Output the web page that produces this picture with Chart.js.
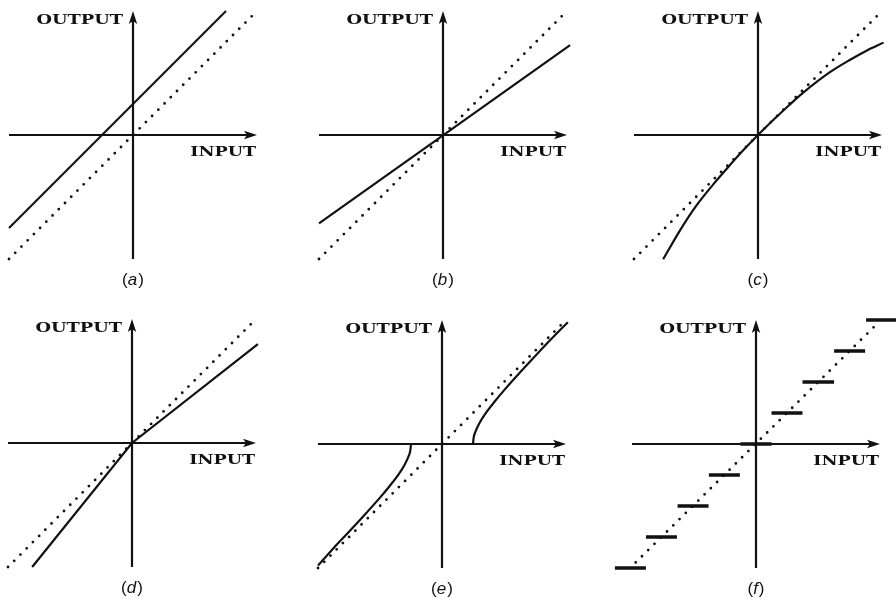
<!DOCTYPE html>
<html>
<head>
<meta charset="utf-8">
<title>Transfer characteristics</title>
<script src="https://cdn.jsdelivr.net/npm/chart.js@4.4.1/dist/chart.umd.min.js"></script>
<style>
  html, body { margin: 0; padding: 0; background: #fff; overflow: hidden; }
  #sheet { position: relative; width: 896px; height: 602px; overflow: hidden; background: #fff; }
  #sheet canvas { position: absolute; }
</style>
</head>
<body>
<div id="sheet"></div>
<script>
// axis reach (units) and texts
const axisReach = 4;
const inputLabel = 'INPUT';
const outputLabel = 'OUTPUT';
const captions = ['a', 'b', 'c', 'd', 'e', 'f'];

// ideal transfer, the dotted diagonal
const idealX = [-4, 4];
const idealY = [-4, 4];

// (a) offset
const offsetX = [-4, 3];
const offsetY = [-3, 4];

// (b) gain
const gainX = [-4, 4.1];
const gainY = [-2.85, 2.9];

// (c) bowed curve
const bowX = [-3.06, -2.53, -1.99, -1.45, -1.0, -0.5, 0, 0.5, 1.0, 1.45, 2.31, 2.96, 3.5, 4.05];
const bowY = [-4.01, -3.1, -2.28, -1.6, -1.08, -0.52, 0, 0.49, 0.96, 1.36, 2.02, 2.42, 2.72, 2.98];

// (d) kink at zero
const kinkX = [-3.22, 0, 4.06];
const kinkY = [-4.0, 0, 3.19];

// (e) dead band, two branches
const deadLowX = [-4.0, -3.5, -3.0, -2.5, -2.0, -1.7, -1.4, -1.2, -1.08, -1.02, -1.0];
const deadLowY = [-3.92, -3.36, -2.83, -2.29, -1.73, -1.37, -0.98, -0.66, -0.4, -0.2, 0];
const deadHighX = [1.0, 1.02, 1.08, 1.2, 1.4, 1.7, 2.0, 2.5, 3.0, 3.5, 4.06];
const deadHighY = [0, 0.2, 0.4, 0.66, 0.98, 1.37, 1.73, 2.29, 2.83, 3.36, 3.93];

// (f) quantizer treads
const stepLevels = [-4, -3, -2, -1, 0, 1, 2, 3, 4];
const stepFrom = [-4.55, -3.55, -2.53, -1.52, -0.5, 0.5, 1.5, 2.52, 3.55];
const stepTo = [-3.55, -2.55, -1.53, -0.52, 0.5, 1.5, 2.52, 3.52, 4.6];
const stepIdealX = [-3.88, 3.88];
const stepIdealY = [-3.82, 3.85];

// where each panel's origin sits on the sheet
const panelOrigins = [[133, 135], [443, 135], [758, 135], [132, 443], [442, 444], [756, 444]];

const ink = '#111';

function pts(xs, ys) {
  return xs.map((x, i) => ({ x: x, y: ys[i] }));
}

function dotted(data) {
  return {
    data: data, borderColor: ink, borderWidth: 2.8,
    borderDash: [0, 8.8], borderCapStyle: 'round',
    pointRadius: 0, tension: 0, clip: false
  };
}

function solid(data, smooth) {
  return {
    data: data, borderColor: ink, borderWidth: 2.2,
    borderCapStyle: 'butt', pointRadius: 0, clip: false,
    tension: smooth ? 0.4 : 0,
    cubicInterpolationMode: smooth ? 'monotone' : 'default'
  };
}

// treads as one dataset, broken by null points
function treads() {
  const data = [];
  stepLevels.forEach((lvl, i) => {
    data.push({ x: stepFrom[i], y: lvl });
    data.push({ x: stepTo[i], y: lvl });
    data.push({ x: stepTo[i], y: null });
  });
  return {
    data: data, borderColor: ink, borderWidth: 3.3, borderCapStyle: 'butt',
    pointRadius: 0, tension: 0, spanGaps: false, clip: false
  };
}

const panelSets = [
  [dotted(pts(idealX, idealY)), solid(pts(offsetX, offsetY))],
  [dotted(pts(idealX, idealY)), solid(pts(gainX, gainY))],
  [dotted(pts(idealX, idealY)), solid(pts(bowX, bowY), true)],
  [dotted(pts(idealX, idealY)), solid(pts(kinkX, kinkY))],
  [dotted(pts(idealX, idealY)), solid(pts(deadLowX, deadLowY), true), solid(pts(deadHighX, deadHighY), true)],
  [dotted(pts(stepIdealX, stepIdealY)), treads()]
];

function arrowHead(ctx, x, y, dir) {
  ctx.save();
  ctx.translate(x, y);
  if (dir === 'up') ctx.rotate(-Math.PI / 2);
  ctx.beginPath();
  ctx.moveTo(0, 0);
  ctx.lineTo(-13, -4.2);
  ctx.lineTo(-10, 0);
  ctx.lineTo(-13, 4.2);
  ctx.closePath();
  ctx.fill();
  ctx.restore();
}

function wideText(ctx, text, right, baseline, stretch) {
  ctx.save();
  ctx.translate(right, baseline);
  ctx.scale(stretch, 1);
  ctx.textAlign = 'right';
  ctx.textBaseline = 'alphabetic';
  ctx.fillText(text, 0, 0);
  ctx.restore();
}

// axes with arrows, axis names and the panel letter
const panelAxes = {
  id: 'panelAxes',
  beforeDatasetsDraw(chart, args, opts) {
    const { ctx, scales: { x, y } } = chart;
    const x0 = x.getPixelForValue(0);
    const y0 = y.getPixelForValue(0);
    const left = x.getPixelForValue(-axisReach);
    const right = x.getPixelForValue(axisReach);
    const top = y.getPixelForValue(axisReach);
    const bottom = y.getPixelForValue(-axisReach);

    ctx.save();
    ctx.strokeStyle = ink;
    ctx.fillStyle = ink;
    ctx.lineWidth = 2.2;
    ctx.beginPath();
    ctx.moveTo(left, y0);
    ctx.lineTo(right - 8, y0);
    ctx.moveTo(x0, bottom);
    ctx.lineTo(x0, top + 8);
    ctx.stroke();
    arrowHead(ctx, right, y0, 'right');
    arrowHead(ctx, x0, top, 'up');

    ctx.font = 'bold 13.5px "DejaVu Serif"';
    wideText(ctx, outputLabel, x0 - 10, top + 12.5, 1.32);
    wideText(ctx, inputLabel, right - 1, y0 + 20.5, 1.3);

    // caption: upright parentheses, italic letter
    const cy = y0 + 145;
    ctx.textBaseline = 'middle';
    ctx.textAlign = 'left';
    ctx.font = '17px "Liberation Sans"';
    const wOpen = ctx.measureText('(').width;
    const wClose = ctx.measureText(')').width;
    ctx.font = 'italic 17px "Liberation Sans"';
    const wLetter = ctx.measureText(opts.caption).width;
    let cx = x0 - (wOpen + wLetter + wClose + 1) / 2;
    ctx.font = '17px "Liberation Sans"';
    ctx.fillText('(', cx, cy);
    cx += wOpen;
    ctx.font = 'italic 17px "Liberation Sans"';
    ctx.fillText(opts.caption, cx, cy);
    cx += wLetter + 1;
    ctx.font = '17px "Liberation Sans"';
    ctx.fillText(')', cx, cy);
    ctx.restore();
  }
};

const sheet = document.getElementById('sheet');

panelSets.forEach((datasets, i) => {
  const canvas = document.createElement('canvas');
  canvas.width = 310;
  canvas.height = 330;
  canvas.style.left = (panelOrigins[i][0] - 155) + 'px';
  canvas.style.top = (panelOrigins[i][1] - 155) + 'px';
  sheet.appendChild(canvas);

  new Chart(canvas.getContext('2d'), {
    type: 'line',
    data: { datasets: datasets },
    options: {
      responsive: false,
      animation: false,
      events: [],
      layout: { padding: { left: 0, right: 0, top: 0, bottom: 20 }, autoPadding: false },
      plugins: {
        legend: { display: false },
        tooltip: { enabled: false },
        panelAxes: { caption: captions[i] }
      },
      scales: {
        x: { type: 'linear', min: -5, max: 5, display: false },
        y: { type: 'linear', min: -5, max: 5, display: false }
      }
    },
    plugins: [panelAxes]
  });
});
</script>
</body>
</html>
